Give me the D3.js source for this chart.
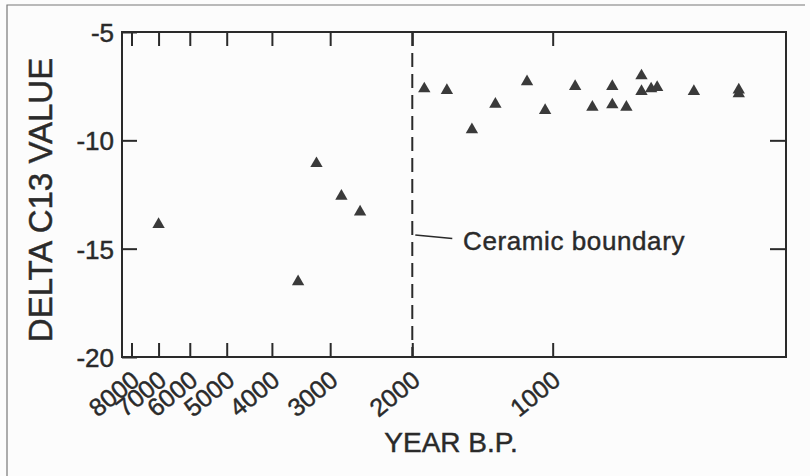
<!DOCTYPE html>
<html><head><meta charset="utf-8">
<script src="https://cdn.jsdelivr.net/npm/d3@7"></script>
<style>html,body{margin:0;padding:0;background:#fcfcfc;}svg{display:block;}text{stroke:#2a2a2a;stroke-width:0.45px;}</style>
</head><body>
<svg id="chart" width="810" height="476"></svg>
<script>
// Data
const years = [7000, 3515, 3210, 2838, 2588, 1885, 1686, 1490, 1327, 1135, 1038, 895, 822, 745, 745, 695, 645, 645, 615, 597, 498, 399, 399];
const delta = [-13.88, -16.52, -11.07, -12.58, -13.30, -7.62, -7.70, -9.51, -8.33, -7.29, -8.62, -7.51, -8.47, -7.51, -8.36, -8.47, -7.02, -7.74, -7.62, -7.56, -7.74, -7.67, -7.85];
const xTicks = [8000, 7000, 6000, 5000, 4000, 3000, 2000, 1000];
const yTicks = [-5, -10, -15, -20];
const boundaryYear = 2000;
const boundaryLabel = "Ceramic boundary";

const svg = d3.select("#chart");
const L = 122, R = 786, T = 32, B = 357;
const x = d3.scaleLog().domain([8385, 316]).range([L, R]);
const y = d3.scaleLinear().domain([-20, -5]).range([B, T]);
const ink = "#2a2a2a";

// outer frame (top & left only, as in the scan)
svg.append("path").attr("d", "M7,476V5H805").attr("fill", "none").attr("stroke", "#777").attr("stroke-width", 1.2);

// plot box
svg.append("rect").attr("x", L).attr("y", T).attr("width", R - L).attr("height", B - T)
  .attr("fill", "none").attr("stroke", ink).attr("stroke-width", 2);

// x ticks bottom and top (inward)
const axB = d3.axisBottom(x).tickValues(xTicks).tickSizeInner(-14).tickSizeOuter(0).tickFormat("");
const gB = svg.append("g").attr("transform", `translate(0,${B})`).call(axB);
const axT = d3.axisTop(x).tickValues(xTicks).tickSizeInner(-14).tickSizeOuter(0).tickFormat("");
const gT = svg.append("g").attr("transform", `translate(0,${T})`).call(axT);
// y ticks left and right (inward)
const axL = d3.axisLeft(y).tickValues(yTicks).tickSizeInner(-15).tickSizeOuter(0).tickFormat("");
const gL = svg.append("g").attr("transform", `translate(${L},0)`).call(axL);
const axR = d3.axisRight(y).tickValues(yTicks.filter(v => v > -20 && v < -5)).tickSizeInner(-16).tickSizeOuter(0).tickFormat("");
const gR = svg.append("g").attr("transform", `translate(${R},0)`).call(axR);
[gB, gT, gL, gR].forEach(g => {
  g.select(".domain").remove();
  g.selectAll(".tick line").attr("stroke", ink).attr("stroke-width", 2);
});

// y tick labels
svg.append("g").selectAll("text").data(yTicks).join("text")
  .attr("x", L - 8).attr("y", d => y(d)).attr("dy", "0.38em")
  .attr("text-anchor", "end").attr("font-family", "Liberation Sans, Arial, sans-serif")
  .attr("font-size", 26).attr("fill", ink).text(d => d);

// x tick labels rotated
svg.append("g").selectAll("text").data(xTicks).join("text")
  .attr("transform", d => `translate(${x(d) + 9.5},383) rotate(-39)`)
  .attr("text-anchor", "end").attr("font-family", "Liberation Sans, Arial, sans-serif")
  .attr("font-size", 25).attr("fill", ink).text(d => d);

// ceramic boundary dashed line
svg.append("line").attr("x1", x(boundaryYear)).attr("x2", x(boundaryYear)).attr("y1", T).attr("y2", B)
  .attr("stroke", ink).attr("stroke-width", 2).attr("stroke-dasharray", "14,7");
svg.append("line").attr("x1", x(boundaryYear) + 3).attr("y1", 235).attr("x2", x(boundaryYear) + 40).attr("y2", 238.5)
  .attr("stroke", ink).attr("stroke-width", 1.6);
svg.append("text").attr("x", 463).attr("y", 250).attr("font-family", "Liberation Sans, Arial, sans-serif")
  .attr("font-size", 26).attr("letter-spacing", 0.6).attr("fill", ink).text(boundaryLabel);

// data points
const sym = d3.symbol().type(d3.symbolTriangle).size(66);
svg.append("g").selectAll("path").data(years.map((yr, i) => ({yr, v: delta[i]}))).join("path")
  .attr("transform", d => `translate(${x(d.yr)},${y(d.v)})`)
  .attr("d", sym).attr("fill", "#3a3a3a");

// axis titles
svg.append("text").attr("x", 451).attr("y", 452).attr("text-anchor", "middle")
  .attr("font-family", "Liberation Sans, Arial, sans-serif").attr("font-size", 28).attr("fill", ink).text("YEAR B.P.");
svg.append("text").attr("transform", "translate(52,200) rotate(-90)").attr("text-anchor", "middle")
  .attr("font-family", "Liberation Sans, Arial, sans-serif").attr("font-size", 33).attr("fill", ink).text("DELTA C13 VALUE");
</script>
</body></html>
